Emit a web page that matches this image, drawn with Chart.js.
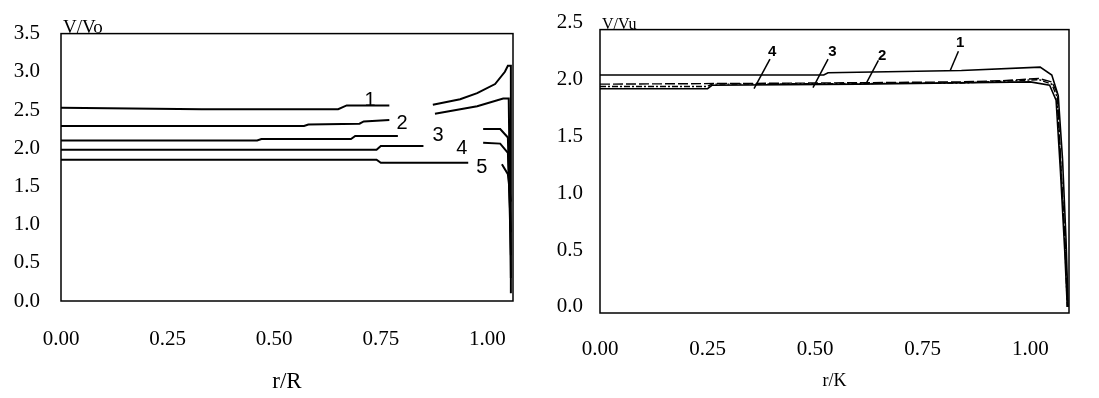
<!DOCTYPE html>
<html>
<head>
<meta charset="utf-8">
<script src="https://cdn.jsdelivr.net/npm/chart.js@4"></script>
<style>
  body { margin: 0; background: #fff; }
  #wrap { position: relative; width: 1099px; height: 398px; }
  canvas { position: absolute; top: 0; }
</style>
</head>
<body>
<div id="wrap">
  <canvas id="left" width="545" height="398" style="left:0"></canvas>
  <canvas id="right" width="554" height="398" style="left:545px"></canvas>
</div>
<script>
// r/R values and V/Vo for each curve, null = gap where the number is written
var l1r = [0, 0.33, 0.65, 0.67, 0.77, null, 0.872, 0.936, 0.976, 1.018, 1.041, 1.048, 1.055, 1.055];
var l1v = [2.53, 2.51, 2.51, 2.56, 2.56, null, 2.57, 2.64, 2.72, 2.84, 3.00, 3.08, 3.08, 0.1];
var l2r = [0, 0.57, 0.58, 0.70, 0.71, 0.77, null, 0.877, 0.976, 1.037, 1.05, 1.055];
var l2v = [2.29, 2.29, 2.31, 2.32, 2.35, 2.37, null, 2.45, 2.55, 2.65, 2.65, 0.3];
var l3r = [0, 0.46, 0.47, 0.68, 0.69, 0.79, null, 0.99, 1.03, 1.048, 1.055];
var l3v = [2.10, 2.10, 2.12, 2.12, 2.16, 2.16, null, 2.25, 2.25, 2.14, 0.6];
var l4r = [0, 0.74, 0.75, 0.85, null, 0.99, 1.03, 1.048, 1.055];
var l4v = [1.98, 1.98, 2.03, 2.03, null, 2.07, 2.06, 1.94, 0.9];
var l5r = [0, 0.74, 0.75, 0.955, null, 1.034, 1.048, 1.055];
var l5v = [1.85, 1.85, 1.81, 1.81, null, 1.79, 1.66, 1.3];

var r1r = [0, 0.52, 0.53, 0.84, 1.023, 1.05, 1.065, 1.075, 1.083, 1.088];
var r1v = [2.04, 2.04, 2.06, 2.08, 2.11, 2.04, 1.86, 1.3, 0.6, 0.0];
var r2r = [0, 0.5, 0.84, 0.93, 1.02, 1.05, 1.063, 1.072, 1.082, 1.087];
var r2v = [1.96, 1.97, 1.98, 1.99, 2.01, 1.98, 1.88, 1.2, 0.5, 0.0];
var r3r = [0, 0.25, 0.26, 0.84, 1.02, 1.05, 1.062, 1.07, 1.08, 1.086];
var r3v = [1.94, 1.94, 1.96, 1.97, 2.0, 1.96, 1.85, 1.3, 0.6, 0.0];
var r4r = [0, 0.25, 0.26, 0.6, 1.0, 1.045, 1.06, 1.07, 1.08, 1.086];
var r4v = [1.92, 1.92, 1.95, 1.96, 1.98, 1.95, 1.82, 1.2, 0.5, 0.0];

var xTicks = [0, 0.25, 0.5, 0.75, 1.0];
var yTicksL = [0, 0.5, 1.0, 1.5, 2.0, 2.5, 3.0, 3.5];
var yTicksR = [0, 0.5, 1.0, 1.5, 2.0, 2.5];

// curve numbers
var numL = ['1', '2', '3', '4', '5'];
var numLr = [0.725, 0.80, 0.884, 0.94, 0.987];
var numLv = [2.62, 2.33, 2.17, 2.0, 1.75];
var numR = ['1', '2', '3', '4'];
var numRr = [0.837, 0.656, 0.54, 0.40];
var numRv = [2.32, 2.21, 2.24, 2.24];
// leader lines from number to curve
var leadR0 = [0.833, 0.647, 0.53, 0.395];
var leadV0 = [2.25, 2.17, 2.18, 2.18];
var leadR1 = [0.814, 0.619, 0.495, 0.358];
var leadV1 = [2.08, 1.97, 1.93, 1.92];

function pts(r, v) {
    return r.map(function (x, i) { return {x: x, y: v[i]}; });
}

function line(r, v, w, dash) {
    return {
        data: pts(r, v),
        borderColor: '#000',
        borderWidth: w,
        borderDash: dash || [],
        pointRadius: 0,
        tension: 0,
        spanGaps: false
    };
}

var serif = 'Liberation Serif';

var frame = {
    id: 'frame',
    afterDatasetsDraw: function (chart) {
        var a = chart.chartArea, c = chart.ctx;
        var o = chart.options.plugins.frame;
        c.save();
        c.strokeStyle = '#000';
        c.lineWidth = 1.5;
        c.strokeRect(a.left, a.top, a.right - a.left, a.bottom - a.top);
        // curve numbers
        var xs = chart.scales.x, ys = chart.scales.y;
        c.fillStyle = '#000';
        c.font = o.numFont;
        c.textAlign = 'center';
        c.textBaseline = 'middle';
        for (var i = 0; i < o.nums.length; i++) {
            c.fillText(o.nums[i], xs.getPixelForValue(o.numR[i]), ys.getPixelForValue(o.numV[i]));
        }
        if (o.lead) {
            c.lineWidth = 1.5;
            for (var j = 0; j < o.lead[0].length; j++) {
                c.beginPath();
                c.moveTo(xs.getPixelForValue(o.lead[0][j]), ys.getPixelForValue(o.lead[1][j]));
                c.lineTo(xs.getPixelForValue(o.lead[2][j]), ys.getPixelForValue(o.lead[3][j]));
                c.stroke();
            }
        }
        // V/Vo label at the top left corner
        c.font = o.topFont;
        c.textAlign = 'left';
        c.textBaseline = 'alphabetic';
        c.fillText(o.top, a.left + 2, a.top - 1);
        c.restore();
    }
};

function makeChart(id, sets, opt) {
    return new Chart(document.getElementById(id), {
        type: 'line',
        data: {datasets: sets},
        options: {
            responsive: false,
            animation: false,
            layout: {padding: {left: 0, top: 29, right: opt.padRight, bottom: 0}},
            plugins: {
                legend: {display: false},
                tooltip: {enabled: false},
                frame: opt.frame
            },
            scales: {
                x: {
                    type: 'linear',
                    min: 0,
                    max: opt.xMax,
                    grid: {display: false, drawTicks: false},
                    border: {display: false},
                    afterBuildTicks: function (s) { s.ticks = xTicks.map(function (v) { return {value: v}; }); },
                    afterFit: function (s) { s.height = opt.xHeight; },
                    ticks: {
                        padding: opt.xPad,
                        color: '#000',
                        maxRotation: 0,
                        autoSkip: false,
                        font: {family: serif, size: 21},
                        callback: function (v) { return Number(v).toFixed(2); }
                    },
                    title: {
                        display: true,
                        text: opt.xTitle,
                        color: '#000',
                        font: {family: serif, size: opt.titleSize},
                        padding: {top: 0, bottom: opt.titlePad}
                    }
                },
                y: {
                    min: opt.yMin,
                    max: opt.yMax,
                    grid: {display: false, drawTicks: false},
                    border: {display: false},
                    afterBuildTicks: function (s) { s.ticks = opt.yTicks.map(function (v) { return {value: v}; }); },
                    afterFit: function (s) { s.width = opt.yWidth; },
                    ticks: {
                        padding: opt.yPad,
                        color: '#000',
                        autoSkip: false,
                        font: {family: serif, size: 21},
                        callback: function (v) { return Number(v).toFixed(1); }
                    }
                }
            }
        },
        plugins: [frame]
    });
}

makeChart('left', [
    line(l1r, l1v, 2),
    line(l2r, l2v, 2),
    line(l3r, l3v, 2),
    line(l4r, l4v, 2),
    line(l5r, l5v, 2)
], {
    padRight: 32, xMax: 1.06, xHeight: 97, xPad: 26, xTitle: 'r/R', titleSize: 23, titlePad: 2,
    yMin: 0, yMax: 3.5, yTicks: yTicksL, yWidth: 61, yPad: 21,
    frame: {
        nums: numL, numR: numLr, numV: numLv, numFont: '20px "Liberation Sans"',
        top: 'V/Vo', topFont: '19px "Liberation Serif"'
    }
});

makeChart('right', [
    line(r1r, r1v, 1.6),
    line(r2r, r2v, 1.4, [10, 3]),
    line(r3r, r3v, 1.4, [6, 2, 2, 2]),
    line(r4r, r4v, 1.6)
], {
    padRight: 30, xMax: 1.09, xHeight: 85, xPad: 24, xTitle: 'r/K', titleSize: 18, titlePad: 6,
    yMin: -0.053, yMax: 2.44, yTicks: yTicksR, yWidth: 55, yPad: 17,
    frame: {
        nums: numR, numR: numRr, numV: numRv, numFont: 'bold 15px "Liberation Sans"',
        lead: [leadR0, leadV0, leadR1, leadV1],
        top: 'V/Vu', topFont: '16px "Liberation Serif"'
    }
});
</script>
</body>
</html>
